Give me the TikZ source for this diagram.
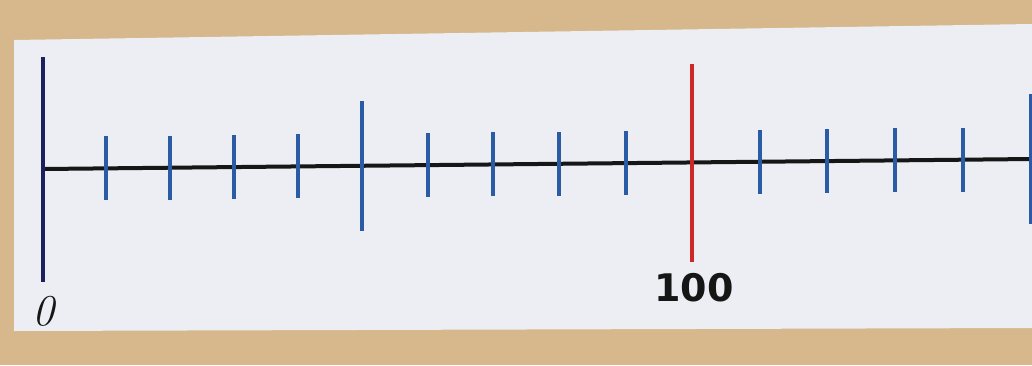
\documentclass[tikz,border=0pt]{standalone}
\usepackage{fontspec}
\newfontfamily\handfont{DejaVu Sans}
\definecolor{wood}{RGB}{214,184,140}
\definecolor{strip}{RGB}{236,238,243}
\definecolor{tickblue}{RGB}{42,92,165}
\definecolor{navy}{RGB}{28,32,95}
\definecolor{redtick}{RGB}{205,40,40}
\definecolor{axis}{RGB}{22,22,22}
\tikzset{
  shorttick/.style={draw=tickblue,line width=4pt},
  axisline/.style={draw=axis,line width=4pt},
}
\begin{document}
\begin{tikzpicture}[x=1pt,y=-1pt]
\useasboundingbox (0,0) rectangle (1032,365);
\fill[wood] (0,0) rectangle (1032,365);
\fill[strip] (14,40) -- (1032,24) -- (1032,328) -- (14,331) -- cycle;
% axis
\coordinate (start) at (43,169);
\coordinate (end) at (1032,159);
\draw[axisline] (start) -- (end);
% zero tick
\draw[draw=navy,line width=4pt] (43,57) -- (43,282);
% short ticks
\foreach \x in {106,170,234,298,428,493,559,626,760,827,895,963}{
  \pgfmathsetmacro{\yc}{169-(\x-43)*10/989}
  \draw[shorttick] (\x,\yc-32) -- (\x,\yc+32);
}
% medium ticks
\foreach \x in {362,1031}{
  \pgfmathsetmacro{\yc}{169-(\x-43)*10/989}
  \draw[shorttick] (\x,\yc-65) -- (\x,\yc+65);
}
% red hundred tick
\draw[draw=redtick,line width=4pt] (692,64) -- (692,262);
% labels
\node[text=axis,font=\fontsize{44}{44}\selectfont\itshape,inner sep=0pt] (zero) at (43,311) {0};
\node[text=axis,font=\handfont\bfseries\fontsize{38}{38}\selectfont,inner sep=0pt] (hundred) at (694,288) {100};
\end{tikzpicture}
\end{document}
